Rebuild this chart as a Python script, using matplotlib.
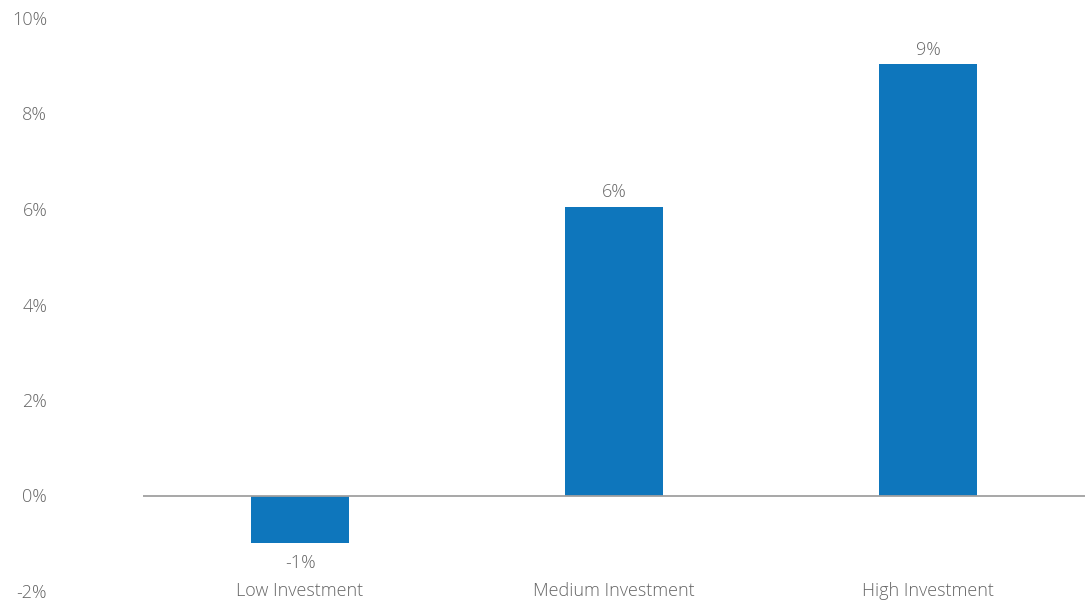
import matplotlib
matplotlib.use("Agg")
import matplotlib.pyplot as plt
from matplotlib.ticker import FuncFormatter

categories = ["Low Investment", "Medium Investment", "High Investment"]
values = [-1.0, 6.05, 9.03]
value_labels = ["-1%", "6%", "9%"]
yticks = [-2, 0, 2, 4, 6, 8, 10]

plt.rcParams["font.family"] = ["Open Sans", "DejaVu Sans"]
txt = "#666666"
blue = "#0e76bc"
fs = 13

fig = plt.figure(figsize=(10.88, 6.02), dpi=100)
ax = fig.add_axes([143 / 1088, 11 / 602, (1085 - 143) / 1088, 573 / 602])

x = range(len(categories))
ax.bar(x, values, width=0.31, color=blue, zorder=2)
ax.axhline(0, color="#a0a0a0", lw=1.3, zorder=3)

for xi, v, lab in zip(x, values, value_labels):
    if v >= 0:
        ax.text(xi, v + 0.12, lab, ha="center", va="bottom", fontsize=fs,
                color=txt, fontweight="light")
    else:
        ax.text(xi, v - 0.22, lab, ha="center", va="top", fontsize=fs,
                color=txt, fontweight="light")

for xi, c in zip(x, categories):
    ax.text(xi, -2, c, ha="center", va="center", fontsize=fs, color=txt,
            fontweight="light")

ax.set_xlim(-0.5, 2.5)
ax.set_ylim(-2, 10)
ax.set_yticks(yticks)
ax.yaxis.set_major_formatter(FuncFormatter(lambda v, p: f"{v:.0f}%"))
ax.set_xticks([])
ax.tick_params(axis="y", length=0, pad=69, labelsize=fs, labelcolor=txt)
for lbl in ax.get_yticklabels():
    lbl.set_fontweight("light")
for s in ax.spines.values():
    s.set_visible(False)

fig.savefig("out.png", dpi=100)
